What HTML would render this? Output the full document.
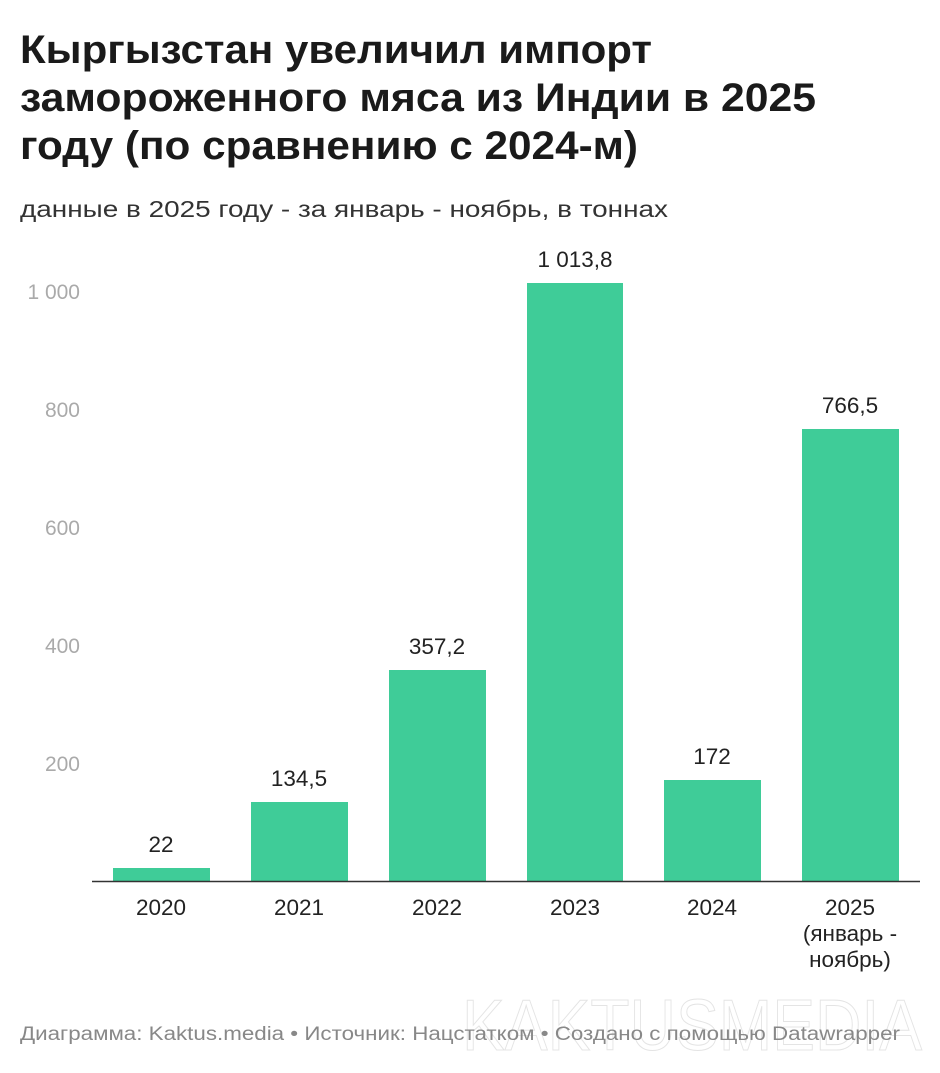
<!DOCTYPE html>
<html><head><meta charset="utf-8"><style>
body{margin:0;background:#fff;width:940px;height:1068px;overflow:hidden;font-family:"Liberation Sans","Noto Sans CJK SC",sans-serif;}
</style></head><body>
<svg width="940" height="1068" xmlns="http://www.w3.org/2000/svg" font-family="Liberation Sans, Noto Sans CJK SC, sans-serif">
<g font-size="40" font-weight="bold" fill="#1a1a1a" lengthAdjust="spacingAndGlyphs">
<text x="20" y="63" textLength="632" lengthAdjust="spacingAndGlyphs">Кыргызстан увеличил импорт</text>
<text x="20" y="111" textLength="796" lengthAdjust="spacingAndGlyphs">замороженного мяса из Индии в 2025</text>
<text x="20" y="159" textLength="618" lengthAdjust="spacingAndGlyphs">году (по сравнению с 2024-м)</text>
</g>
<text x="20" y="217" font-size="23" fill="#333" textLength="648" lengthAdjust="spacingAndGlyphs">данные в 2025 году - за январь - ноябрь, в тоннах</text>
<g font-size="21" fill="#aaa" text-anchor="end">
<text x="80" y="299">1 000</text>
<text x="80" y="417">800</text>
<text x="80" y="535">600</text>
<text x="80" y="653">400</text>
<text x="80" y="771">200</text>
</g>
<g fill="#3fcc98">
<rect x="113" y="868" width="97" height="13"/>
<rect x="251" y="802" width="97" height="79"/>
<rect x="389" y="670" width="97" height="211"/>
<rect x="527" y="283" width="96" height="598"/>
<rect x="664" y="780" width="97" height="101"/>
<rect x="802" y="429" width="97" height="452"/>
</g>
<line x1="92" y1="881.5" x2="920" y2="881.5" stroke="#333" stroke-width="1.5"/>
<g font-size="22.5" fill="#222" text-anchor="middle">
<text x="161" y="852">22</text>
<text x="299" y="786">134,5</text>
<text x="437" y="654">357,2</text>
<text x="575" y="267">1 013,8</text>
<text x="712" y="764">172</text>
<text x="850" y="413">766,5</text>
<text x="161" y="915">2020</text>
<text x="299" y="915">2021</text>
<text x="437" y="915">2022</text>
<text x="575" y="915">2023</text>
<text x="712" y="915">2024</text>
<text x="850" y="915">2025</text>
<text x="850" y="941">(январь -</text>
<text x="850" y="967">ноябрь)</text>
</g>
<text x="692" y="1050" font-size="72" text-anchor="middle" textLength="460" lengthAdjust="spacingAndGlyphs" fill="none" stroke="#e4e4e4" stroke-width="1">KAKTUSMEDIA</text>
<text x="20" y="1040" font-size="19" fill="#888" textLength="880" lengthAdjust="spacingAndGlyphs">Диаграмма: Kaktus.media • Источник: Нацстатком • Создано с помощью Datawrapper</text>
</svg>
</body></html>
